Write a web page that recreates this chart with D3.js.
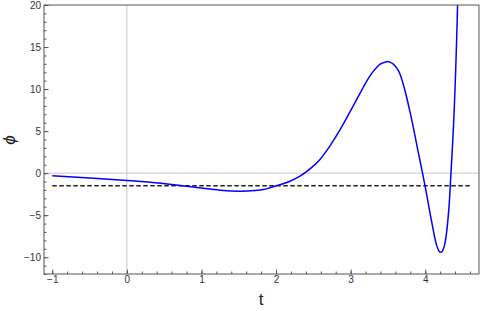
<!DOCTYPE html>
<html><head><meta charset="utf-8">
<script src="https://cdn.jsdelivr.net/npm/d3@7"></script>
<style>body{margin:0;background:#fff}svg{display:block}text{font-family:"Liberation Sans",Arial,sans-serif}</style>
</head><body><svg id="c" width="480" height="311"></svg>
<script>
const tValues = [-1, -0.5, 0, 0.31, 0.632, 1.024, 1.248, 1.516, 1.718, 1.829, 1.919, 2.053, 2.187, 2.321, 2.455, 2.589, 2.723, 2.857, 2.991, 3.125, 3.259, 3.366, 3.42, 3.483, 3.528, 3.568, 3.635, 3.688, 3.742, 3.796, 3.85, 3.903, 3.964, 4.01, 4.064, 4.127, 4.154, 4.181, 4.208, 4.232, 4.258, 4.279, 4.299, 4.319, 4.336, 4.358, 4.372, 4.385, 4.399, 4.412, 4.426, 4.434, 4.443];
const phiValues = [-0.30, -0.57, -0.89, -1.08, -1.37, -1.80, -2.03, -2.15, -2.07, -1.96, -1.74, -1.38, -0.96, -0.37, 0.50, 1.63, 3.24, 5.14, 7.28, 9.48, 11.56, 12.75, 13.07, 13.26, 13.19, 12.99, 12.28, 11.09, 9.36, 7.28, 5.02, 2.64, 0.0, -2.12, -4.73, -7.65, -8.62, -9.22, -9.41, -9.26, -8.60, -7.59, -6.04, -4.02, -1.49, 2.05, 4.37, 6.80, 9.90, 13.23, 17.39, 20.0, 23.0];
const dashedLevel = -1.5;
const dashedRange = [-1, 4.6];
const xTicks = [-1, 0, 1, 2, 3, 4];
const yTicks = [-10, -5, 0, 5, 10, 15, 20];
const xDomain = [-1.111, 4.721];
const yDomain = [-12, 20];

const svg = d3.select("#c");
const L = 44, R = 479, T = 5, B = 274;
const x = d3.scaleLinear().domain(xDomain).range([L, R]);
const y = d3.scaleLinear().domain(yDomain).range([B, T]);

svg.append("clipPath").attr("id","clip").append("rect")
  .attr("x", L).attr("y", T).attr("width", R-L).attr("height", B-T);

// zero axes
svg.append("line").attr("x1", x(0)).attr("x2", x(0)).attr("y1", T).attr("y2", B)
  .attr("stroke", "#c8c8c8").attr("stroke-width", 1);
svg.append("line").attr("x1", L).attr("x2", R).attr("y1", y(0)).attr("y2", y(0))
  .attr("stroke", "#c8c8c8").attr("stroke-width", 1);

const g = svg.append("g").attr("clip-path", "url(#clip)");
g.append("line").attr("x1", x(dashedRange[0])).attr("x2", x(dashedRange[1]))
  .attr("y1", y(dashedLevel)).attr("y2", y(dashedLevel))
  .attr("stroke", "#222").attr("stroke-width", 1.6).attr("stroke-dasharray", "4.5,2.5");

const data = tValues.map((t, i) => [t, phiValues[i]]);
g.append("path").datum(data)
  .attr("d", d3.line().x(d => x(d[0])).y(d => y(d[1])).curve(d3.curveNatural))
  .attr("fill", "none").attr("stroke", "#0000ff").attr("stroke-width", 1.5);

// frame
svg.append("rect").attr("x", L).attr("y", T).attr("width", R-L).attr("height", B-T)
  .attr("fill", "none").attr("stroke", "#555").attr("stroke-width", 1);

// ticks (inside)
const fmt = d => d < 0 ? "\u2212" + Math.abs(d) : d;
const xMinor = d3.range(-1.0, 4.71, 0.2).map(v => +v.toFixed(2));
const axB = svg.append("g").attr("transform", `translate(0,${B})`)
  .call(d3.axisBottom(x).tickValues(xMinor).tickSize(-2.5).tickFormat(""));
const axB2 = svg.append("g").attr("transform", `translate(0,${B})`)
  .call(d3.axisBottom(x).tickValues(xTicks).tickSize(-4.5).tickPadding(2).tickFormat(fmt));
const yMinor = d3.range(-12, 20.1, 1);
const axL = svg.append("g").attr("transform", `translate(${L},0)`)
  .call(d3.axisLeft(y).tickValues(yMinor).tickSize(-2.5).tickFormat(""));
const axL2 = svg.append("g").attr("transform", `translate(${L},0)`)
  .call(d3.axisLeft(y).tickValues(yTicks).tickSize(-4.5).tickPadding(3).tickFormat(fmt));
[axB, axB2, axL, axL2].forEach(a => {
  a.select(".domain").remove();
  a.selectAll(".tick line").attr("stroke", "#555");
  a.selectAll("text").attr("fill", "#333").style("font-size", "10px");
});

svg.append("text").attr("x", 261).attr("y", 305).attr("text-anchor", "middle")
  .style("font-size", "17px").attr("fill", "#222").text("t");
svg.append("text").attr("transform", `translate(15,140) rotate(-90)`).attr("text-anchor", "middle")
  .style("font-size", "17px").style("font-style", "italic").attr("fill", "#222").text("\u03d5");
</script></body></html>
